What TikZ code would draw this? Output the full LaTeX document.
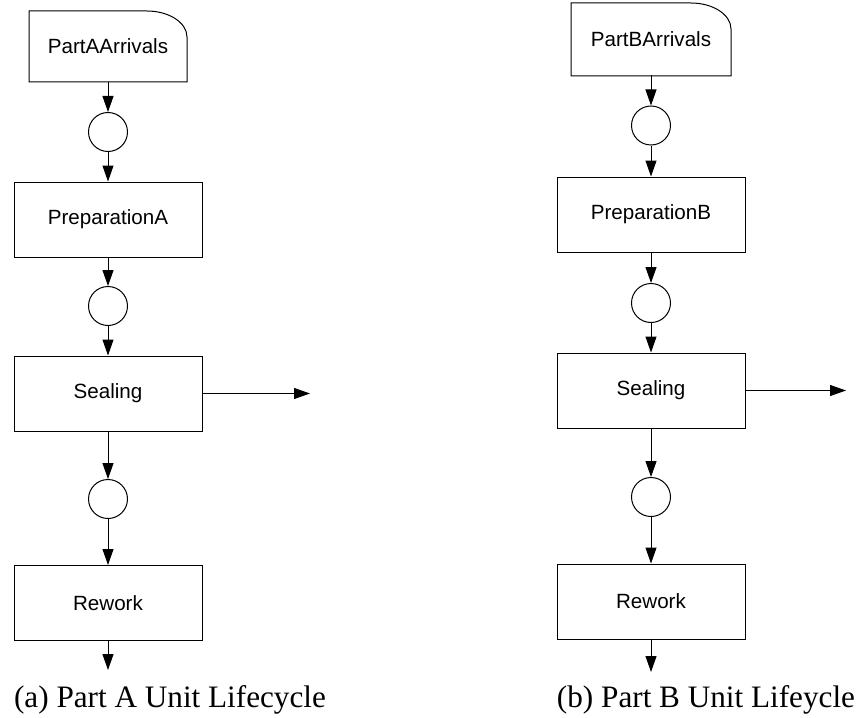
\documentclass[tikz,border=0pt]{standalone}
\usepackage{fontspec}
\setmainfont{Liberation Serif}
\setsansfont{Liberation Sans}
\usetikzlibrary{arrows.meta}

\begin{document}
\begin{tikzpicture}[x=0.5pt,y=-0.5pt]
        \tikzstyle{every node}=[font=\sffamily\fontsize{10.3}{12}\selectfont, inner sep=0pt]
        \tikzstyle{box}=[draw, line width=0.5pt, minimum width=94pt, minimum height=37.5pt]
        \tikzstyle{queue}=[draw, circle, line width=0.5pt, minimum size=19.5pt]
        \tikzstyle{source}=[minimum width=79pt, minimum height=35.5pt]
        \tikzstyle{flow}=[-{Triangle[length=8pt,width=5.5pt]}, line width=0.5pt]
        \tikzstyle{caption}=[font=\rmfamily\fontsize{15.6}{18}\selectfont, anchor=base]
        \useasboundingbox (0,0) rectangle (861,717);

        % part A
        \draw[line width=0.5pt] (29,82) -- (29,11) -- (147,11) .. controls (169,11) and (187,22.6) .. (187,37) -- (187,82) -- cycle;
        \node[source] (arrA) at (108,46.5) {PartAArrivals};
        \node[queue] (qA1) at (108,132) {};
        \node[box] (prepA) at (108,219.5) {PreparationA};
        \node[queue] (qA2) at (108,306) {};
        \node[box] (sealA) at (108,393.5) {Sealing};
        \node[queue] (qA3) at (108,499) {};
        \node[box] (rewA) at (108,603) {Rework};
        \coordinate (outA) at (310,393.5);
        \coordinate (endA) at (108,670);
        \draw[flow] (arrA) -- (qA1);
        \draw[flow] (qA1) -- (prepA);
        \draw[flow] (prepA) -- (qA2);
        \draw[flow] (qA2) -- (sealA);
        \draw[flow] (sealA) -- (qA3);
        \draw[flow] (qA3) -- (rewA);
        \draw[flow] (rewA) -- (endA);
        \draw[flow] (sealA.east) -- (outA);
        \node[caption] (capA) at (170,707) {(a) Part A Unit Lifecycle};

        % part B
        \draw[line width=0.5pt] (571,76) -- (571,3) -- (691,3) .. controls (713,3) and (731,14.6) .. (731,29) -- (731,76) -- cycle;
        \node[source] (arrB) at (651,39.5) {PartBArrivals};
        \node[queue] (qB1) at (651,125.5) {};
        \node[box] (prepB) at (651,214.5) {PreparationB};
        \node[queue] (qB2) at (651,303) {};
        \node[box] (sealB) at (651,390.5) {Sealing};
        \node[queue] (qB3) at (651,497) {};
        \node[box] (rewB) at (651,601.5) {Rework};
        \coordinate (outB) at (846,390.5);
        \coordinate (endB) at (651,672);
        \draw[flow] (arrB) -- (qB1);
        \draw[flow] (qB1) -- (prepB);
        \draw[flow] (prepB) -- (qB2);
        \draw[flow] (qB2) -- (sealB);
        \draw[flow] (sealB) -- (qB3);
        \draw[flow] (qB3) -- (rewB);
        \draw[flow] (rewB) -- (endB);
        \draw[flow] (sealB.east) -- (outB);
        \node[caption] (capB) at (706,707) {(b) Part B Unit Lifeycle};
\end{tikzpicture}
\end{document}
